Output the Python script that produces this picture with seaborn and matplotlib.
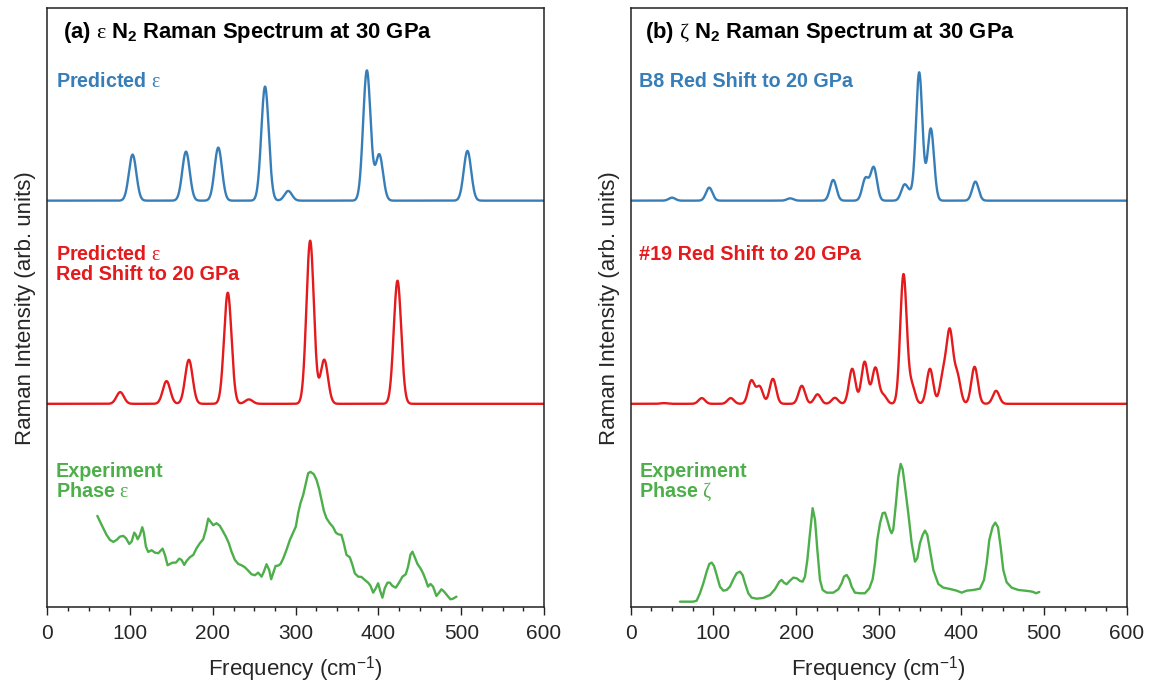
import numpy as np
import pandas as pd
import matplotlib
matplotlib.use("Agg")
import matplotlib.pyplot as plt
import seaborn as sns

# ---------------- data ----------------
# (a) epsilon phase: predicted mode positions (cm^-1) and Raman intensities
eps_pred_pos = [103, 167.5, 206.5, 263, 291, 386, 401, 507.5]
eps_pred_int = [46, 49, 53, 114, 9.7, 130, 46, 49.7]

# (a) predicted epsilon, red-shifted to 20 GPa
eps_shift_pos = [88, 144, 171, 218, 243.5, 317.5, 334.5, 423]
eps_shift_int = [11.7, 22.7, 44, 111, 4.4, 163, 44, 123]

# (a) measured epsilon spectrum
exp_eps_freq = [60.4, 65.6, 71.6, 75.7, 79.7, 83.7, 87.7, 91.8, 95.0, 99.0,
                101.8, 105.0, 107.0, 109.1, 111.9, 114.7, 116.7, 119.1, 121.9, 126.0,
                130.0, 134.0, 139.2, 142.1, 145.3, 148.1, 151.3, 155.3, 159.4, 162.2,
                165.4, 168.2, 172.2, 176.3, 180.3, 184.3, 188.3, 191.5, 194.4, 197.2,
                200.4, 204.4, 208.5, 211.7, 215.7, 219.3, 222.5, 226.6, 230.6, 234.6,
                238.6, 242.7, 246.7, 250.7, 254.7, 258.8, 261.6, 264.8, 268.0, 270.4,
                272.8, 275.7, 278.9, 281.7, 284.9, 288.9, 293.0, 297.0, 300.2, 303.0,
                305.8, 309.1, 311.9, 315.1, 317.9, 321.9, 325.2, 328.4, 331.2, 334.0,
                337.2, 341.2, 345.3, 348.5, 351.3, 355.3, 358.1, 361.4, 365.4, 368.6,
                371.4, 375.5, 379.5, 383.5, 387.5, 390.3, 393.6, 396.8, 399.6, 402.4,
                404.8, 407.6, 410.9, 413.7, 416.9, 420.9, 424.9, 429.0, 433.0, 435.8,
                438.6, 441.0, 443.9, 447.1, 450.7, 453.9, 457.1, 459.9, 462.8, 466.0,
                470.0, 473.2, 476.1, 479.3, 482.9, 486.9, 490.1, 494.2]
exp_eps_int = [91.0, 82.0, 72.0, 67.0, 65.0, 67.0, 70.3, 71.0, 68.7, 63.0,
               65.3, 74.3, 72.0, 67.7, 72.0, 79.7, 73.7, 60.3, 55.0, 56.7,
               54.3, 53.7, 58.3, 52.0, 41.7, 43.0, 44.3, 44.3, 48.3, 47.0,
               42.0, 46.0, 49.7, 52.0, 58.7, 63.7, 67.7, 77.0, 88.3, 85.3,
               81.7, 83.7, 81.0, 76.3, 70.3, 63.7, 55.3, 47.0, 43.0, 41.7,
               39.7, 36.3, 32.7, 31.7, 34.3, 30.3, 35.3, 42.7, 37.0, 27.7,
               33.7, 41.0, 41.3, 43.0, 48.3, 57.0, 67.0, 74.3, 80.3, 93.7,
               103.7, 112.0, 122.0, 133.7, 135.0, 132.7, 127.0, 117.7, 107.0, 96.3,
               88.7, 83.7, 79.7, 74.3, 72.7, 72.0, 63.7, 52.0, 49.7, 42.0,
               33.7, 30.3, 30.0, 27.0, 24.3, 21.3, 14.3, 18.7, 23.7, 15.3,
               9.3, 18.7, 24.3, 24.3, 21.0, 19.3, 24.3, 30.3, 32.7, 40.3,
               52.0, 55.3, 49.7, 43.0, 38.7, 33.7, 27.0, 20.3, 23.0, 20.3,
               11.0, 14.3, 17.7, 15.3, 11.7, 7.7, 8.3, 10.3]

# (b) B8 structure, red-shifted to 20 GPa
b8_pos = [50, 95, 193, 245, 284, 294, 331, 338, 349, 363, 417]
b8_int = [3, 13, 2.3, 20.7, 22, 33, 15, 6, 128, 72, 19]

# (b) structure #19, red-shifted to 20 GPa
s19_pos = [40, 86, 121, 146, 156, 172, 207, 226, 247, 268, 283, 296, 306,
           330, 340, 362, 378, 386, 395, 416, 442]
s19_int = [0.7, 5.7, 5.7, 23, 17, 25, 18, 9.5, 6, 35, 42, 36, 8,
           129, 18, 35, 28, 70, 28, 37, 13]

# (b) measured zeta spectrum
exp_zeta_freq = [59.6, 67.7, 75.8, 79.8, 83.8, 87.9, 91.9, 95.1, 98.0, 100.8,
                 104.0, 108.0, 112.1, 116.1, 120.1, 124.2, 128.2, 132.2, 135.4, 138.3,
                 142.3, 146.3, 152.4, 160.4, 168.5, 174.5, 179.8, 182.6, 185.4, 188.7,
                 192.7, 196.7, 200.8, 204.8, 208.0, 210.8, 213.7, 216.9, 220.1, 223.0,
                 225.8, 229.0, 232.2, 237.1, 245.1, 251.2, 255.2, 258.0, 261.3, 264.5,
                 267.3, 271.3, 277.4, 283.4, 288.7, 292.7, 295.5, 298.3, 301.6, 304.8,
                 307.6, 310.4, 313.7, 315.7, 317.7, 320.9, 323.8, 326.6, 329.0, 331.8,
                 335.8, 339.9, 343.9, 346.7, 349.9, 353.2, 356.0, 358.8, 362.0, 366.1,
                 372.1, 378.2, 386.3, 394.3, 400.4, 406.4, 414.5, 422.5, 427.4, 430.6,
                 433.8, 437.9, 441.1, 444.3, 447.5, 450.7, 454.8, 460.8, 468.9, 477.0,
                 483.0, 487.0, 490.3, 494.3]
exp_zeta_int = [5.3, 5.3, 5.3, 6.3, 13.7, 23.7, 35.3, 43.0, 44.3, 41.0,
                32.0, 20.3, 16.3, 17.0, 20.3, 27.7, 33.7, 35.3, 32.0, 23.7,
                13.7, 9.3, 8.3, 9.0, 12.0, 17.7, 25.3, 27.0, 24.3, 22.7,
                26.3, 29.3, 28.7, 26.0, 25.3, 30.3, 47.0, 73.7, 98.7, 87.0,
                57.0, 27.0, 17.0, 14.3, 14.3, 17.7, 23.7, 30.3, 32.0, 27.7,
                20.3, 14.3, 13.7, 13.7, 18.7, 27.7, 43.7, 67.0, 83.7, 93.7,
                94.3, 87.0, 77.0, 73.7, 77.7, 103.7, 130.3, 143.0, 137.7, 120.3,
                93.7, 63.7, 45.3, 48.7, 63.7, 72.0, 76.3, 72.0, 57.0, 37.0,
                23.0, 19.3, 18.0, 16.3, 14.3, 16.3, 17.0, 18.3, 27.0, 43.7,
                67.0, 80.3, 84.3, 79.7, 60.3, 37.0, 24.7, 19.3, 17.0, 16.3,
                15.7, 15.0, 13.7, 15.0]

x_ticks = [0, 100, 200, 300, 400, 500, 600]

# ---------------- style ----------------
sns.set_theme(style="ticks")
plt.rcParams["font.family"] = ["Liberation Sans", "DejaVu Sans"]
plt.rcParams["mathtext.fontset"] = "custom"
plt.rcParams["mathtext.rm"] = "Liberation Serif"
plt.rcParams["mathtext.it"] = "Liberation Serif:italic"
plt.rcParams["mathtext.bf"] = "Liberation Sans:bold"
plt.rcParams["mathtext.sf"] = "Liberation Sans"

BLUE, RED, GREEN = "#377eb8", "#e41a1c", "#4daf4a"
OFFSET_TOP, OFFSET_MID = 406, 203
freq_grid = np.linspace(0, 600, 2401)


def broaden(pos, inten, sigma):
    """Gaussian-broadened stick spectrum on the frequency grid."""
    pos = np.asarray(pos)[:, None]
    inten = np.asarray(inten)[:, None]
    return (inten * np.exp(-(freq_grid - pos) ** 2 / (2 * sigma ** 2))).sum(axis=0)


def draw(ax, x, y, color):
    df = pd.DataFrame({"freq": x, "intensity": y})
    sns.lineplot(data=df, x="freq", y="intensity", ax=ax, color=color,
                 linewidth=1.7, estimator=None, sort=False)


fig = plt.figure(figsize=(11.57, 6.85), dpi=100)
ax_a = fig.add_axes([0.0409, 0.1139, 0.4293, 0.8737])
ax_b = fig.add_axes([0.5451, 0.1139, 0.4287, 0.8737])

# panel (a)
draw(ax_a, freq_grid, OFFSET_TOP + broaden(eps_pred_pos, eps_pred_int, 4.5), BLUE)
draw(ax_a, freq_grid, OFFSET_MID + broaden(eps_shift_pos, eps_shift_int, 4.5), RED)
draw(ax_a, exp_eps_freq, exp_eps_int, GREEN)

# panel (b)
draw(ax_b, freq_grid, OFFSET_TOP + broaden(b8_pos, b8_int, 3.9), BLUE)
draw(ax_b, freq_grid, OFFSET_MID + broaden(s19_pos, s19_int, 3.9), RED)
draw(ax_b, exp_zeta_freq, exp_zeta_int, GREEN)

for ax in (ax_a, ax_b):
    ax.set_xlim(0, 600)
    ax.set_ylim(0, 598)
    ax.set_xticks(x_ticks)
    ax.set_xticks(np.arange(0, 601, 25), minor=True)
    ax.set_yticks([])
    ax.tick_params(axis="x", which="major", direction="out", length=5.5,
                   width=1.0, labelsize=15, pad=7, color="#222222")
    ax.tick_params(axis="x", which="minor", direction="out", length=3.2,
                   width=1.0, color="#222222")
    for sp in ax.spines.values():
        sp.set_visible(True)
        sp.set_linewidth(1.1)
        sp.set_color("#222222")
    ax.set_xlabel("Frequency (cm$^{\\mathregular{-1}}$)", fontsize=16, labelpad=8)
    ax.set_ylabel("Raman Intensity (arb. units)", fontsize=16, labelpad=8)


def label(ax, x, y, s, color, size=14.2):
    ax.text(x, y, s, transform=ax.transAxes, color=color, fontsize=size,
            fontweight="bold", va="baseline", ha="left")


label(ax_a, 0.031, 0.950, r"(a) $\mathrm{\varepsilon}$ N$_\mathbf{2}$ Raman Spectrum at 30 GPa", "black", 15.8)
label(ax_a, 0.0175, 0.868, r"Predicted $\mathrm{\varepsilon}$", BLUE)
label(ax_a, 0.0175, 0.580, r"Predicted $\mathrm{\varepsilon}$", RED)
label(ax_a, 0.0175, 0.546, "Red Shift to 20 GPa", RED)
label(ax_a, 0.0175, 0.218, "Experiment", GREEN)
label(ax_a, 0.0175, 0.184, r"Phase $\mathrm{\varepsilon}$", GREEN)

label(ax_b, 0.0288, 0.950, r"(b) $\mathrm{\zeta}$ N$_\mathbf{2}$ Raman Spectrum at 30 GPa", "black", 15.8)
label(ax_b, 0.0173, 0.868, "B8 Red Shift to 20 GPa", BLUE)
label(ax_b, 0.0173, 0.579, "#19 Red Shift to 20 GPa", RED)
label(ax_b, 0.0173, 0.218, "Experiment", GREEN)
label(ax_b, 0.0173, 0.184, r"Phase $\mathrm{\zeta}$", GREEN)

fig.savefig("out.png", dpi=100)
